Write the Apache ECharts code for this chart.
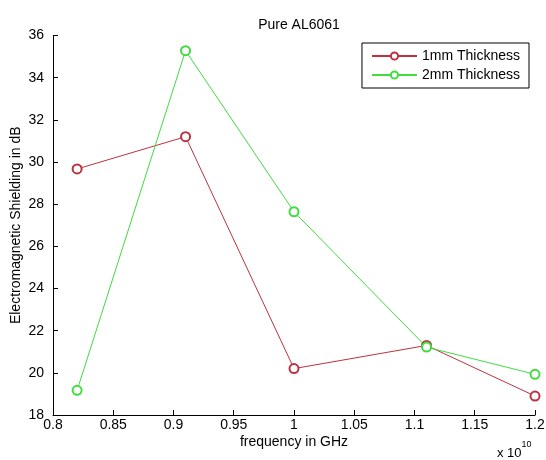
<!DOCTYPE html>
<html>
<head>
<meta charset="utf-8">
<script src="https://cdn.jsdelivr.net/npm/echarts@6/dist/echarts.min.js"></script>
<style>html,body{margin:0;padding:0;background:#fff;}#c{width:546px;height:460px;}</style>
</head>
<body>
<div id="c"></div>
<script>
const frequency = [0.82, 0.91, 1.0, 1.11, 1.2]; // x 10^10
const thickness1mm = [29.67, 31.2, 20.2, 21.3, 18.9];
const thickness2mm = [19.17, 35.28, 27.64, 21.22, 19.93];
const seriesNames = ['1mm Thickness', '2mm Thickness'];
const xTicks = ['0.8','0.85','0.9','0.95','1','1.05','1.1','1.15','1.2'];

const font = 'Liberation Sans, Arial, sans-serif';
const chart = echarts.init(document.getElementById('c'));
function pairs(ys){ return frequency.map((x,i)=>[x, ys[i]]); }
const mk = (name, ys, color) => ({
  name, type: 'line', data: pairs(ys),
  symbol: 'emptyCircle', symbolSize: 9,
  lineStyle: {color, width: 1},
  itemStyle: {color, borderColor: color, borderWidth: 1},
  emphasis: {disabled: true},
  animation: false
});
chart.setOption({
  backgroundColor: '#fff',
  animation: false,
  title: {
    text: 'Pure AL6061', left: 294, top: 13, textAlign: 'center',
    textStyle: {fontFamily: font, fontSize: 14, fontWeight: 'normal', color: '#000'}
  },
  legend: {
    data: seriesNames, orient: 'vertical', right: 17, top: 43,
    backgroundColor: '#fff', borderColor: '#000', borderWidth: 1,
    padding: [6, 9, 6, 9], itemGap: 5, itemWidth: 45, itemHeight: 9,
    textStyle: {fontFamily: font, fontSize: 14, color: '#000'}
  },
  grid: {left: 53, right: 11, top: 35.5, bottom: 45, containLabel: false, outerBoundsMode: 'none'},
  xAxis: {
    type: 'value', min: 0.8, max: 1.2, interval: 0.05,
    name: 'frequency in GHz', nameLocation: 'middle', nameGap: 20, nameMoveOverlap: false,
    nameTextStyle: {fontFamily: font, fontSize: 14, color: '#000'},
    axisLine: {lineStyle: {color: '#000', width: 1}},
    axisTick: {inside: true, length: 5, lineStyle: {color: '#000'}},
    axisLabel: {fontFamily: font, fontSize: 14, color: '#000', margin: 3,
      formatter: v => xTicks[Math.round((v - 0.8) / 0.05)]},
    splitLine: {show: false}
  },
  yAxis: {
    type: 'value', min: 18, max: 36, interval: 2,
    name: 'Electromagnetic Shielding in dB', nameLocation: 'middle', nameGap: 30, nameMoveOverlap: false,
    nameTextStyle: {fontFamily: font, fontSize: 14, color: '#000'},
    axisLine: {show: true, lineStyle: {color: '#000', width: 1}},
    axisTick: {show: true, inside: true, length: 5, lineStyle: {color: '#000'}},
    axisLabel: {fontFamily: font, fontSize: 14, color: '#000', margin: 9},
    splitLine: {show: false}
  },
  graphic: [{
    type: 'text', left: 497, top: 440,
    style: {
      text: '{a|x 10}{b|10}',
      rich: {
        a: {fontFamily: font, fontSize: 13, fill: '#000', padding: [7, 0, 0, 0]},
        b: {fontFamily: font, fontSize: 9, fill: '#000', verticalAlign: 'top'}
      }
    }
  }],
  series: [
    mk(seriesNames[0], thickness1mm, '#bb3340'),
    mk(seriesNames[1], thickness2mm, '#40dc40')
  ]
});
</script>
</body>
</html>
